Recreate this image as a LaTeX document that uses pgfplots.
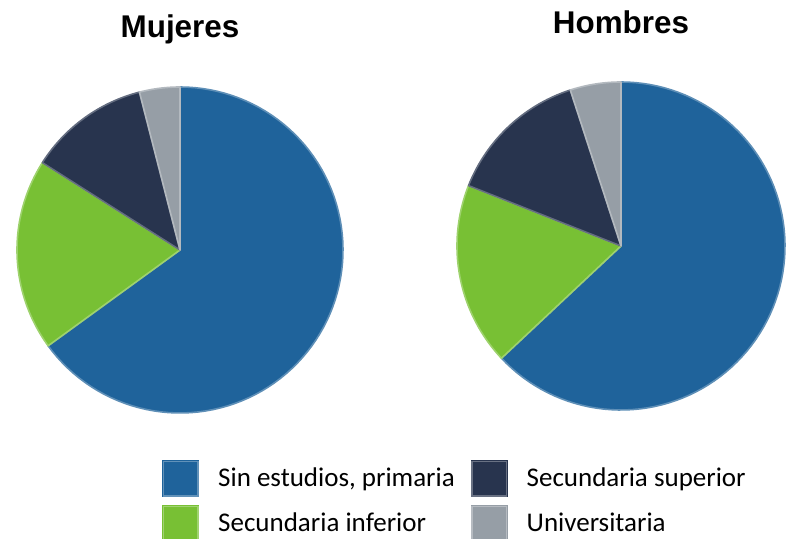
\documentclass[border=0pt]{standalone}
\usepackage{pgfplots}
\pgfplotsset{compat=1.18}
\usepackage{pgfplotstable}
\usepgfplotslibrary{polar}
\usepackage{fontspec}
\setmainfont{Carlito}
\newfontfamily\titlefont{Liberation Sans}
\definecolor{cBlue}{HTML}{1F639B}
\definecolor{cGreen}{HTML}{78C034}
\definecolor{cNavy}{HTML}{28344E}
\definecolor{cGray}{HTML}{969EA6}
\pgfplotstableread{
cat mujeres hombres
1 65 63
2 19 18
3 12 14
4 4 5
}\datatable
\newcommand\computeangles[2]{%
  \pgfplotstablegetelem{0}{#1}\of\datatable \pgfmathsetmacro\tA{90-3.6*\pgfplotsretval}%
  \pgfplotstablegetelem{1}{#1}\of\datatable \pgfmathsetmacro\tB{\tA-3.6*\pgfplotsretval}%
  \pgfplotstablegetelem{2}{#1}\of\datatable \pgfmathsetmacro\tC{\tB-3.6*\pgfplotsretval}%
  \pgfplotstablegetelem{3}{#1}\of\datatable \pgfmathsetmacro\tD{\tC-3.6*\pgfplotsretval}%
  \expandafter\xdef\csname #2A\endcsname{\tA}%
  \expandafter\xdef\csname #2B\endcsname{\tB}%
  \expandafter\xdef\csname #2C\endcsname{\tC}%
  \expandafter\xdef\csname #2D\endcsname{\tD}%
}
\computeangles{mujeres}{mu}
\computeangles{hombres}{ho}
\pgfplotsset{
  pie/.style={hide axis, scale only axis, clip=false, ymin=0, ymax=1,
    title style={font=\titlefont\bfseries\fontsize{15.7}{18}\selectfont, anchor=center, at={(0.5,1)}}},
  slice/.style={fill=#1, draw=#1!72!white, line width=0.8pt, line join=round, samples=90},
  legbox/.style={legend image code/.code={%
    \fill[#1] (0pt,-5pt) rectangle (18pt,13pt);
    \draw[#1!70!white, line width=0.7pt] (0.35pt,-4.65pt) rectangle (17.65pt,12.65pt);}},
}
\begin{document}
\begin{tikzpicture}
\useasboundingbox (0pt,0pt) rectangle (394.5pt,269.5pt);
\begin{polaraxis}[pie, width=163pt, height=163pt, at={(90pt,144.5pt)}, anchor=center,
  title={Mujeres}, title style={yshift=14.5pt}]
\addplot[slice=cBlue, domain=\muA:90] {1} -- (axis cs:0,0) -- cycle;
\addplot[slice=cGreen, domain=\muB:\muA] {1} -- (axis cs:0,0) -- cycle;
\addplot[slice=cNavy, domain=\muC:\muB] {1} -- (axis cs:0,0) -- cycle;
\addplot[slice=cGray, domain=\muD:\muC] {1} -- (axis cs:0,0) -- cycle;
\end{polaraxis}
\begin{polaraxis}[pie, width=164pt, height=164pt, at={(310.5pt,146.5pt)}, anchor=center,
  title={Hombres}, title style={yshift=15.7pt}]
\addplot[slice=cBlue, domain=\hoA:90] {1} -- (axis cs:0,0) -- cycle;
\addplot[slice=cGreen, domain=\hoB:\hoA] {1} -- (axis cs:0,0) -- cycle;
\addplot[slice=cNavy, domain=\hoC:\hoB] {1} -- (axis cs:0,0) -- cycle;
\addplot[slice=cGray, domain=\hoD:\hoC] {1} -- (axis cs:0,0) -- cycle;
\end{polaraxis}
\begin{axis}[hide axis, scale only axis, width=1pt, height=1pt, xmin=0, xmax=1, ymin=0, ymax=1,
  at={(81pt,39.5pt)}, anchor=south west,
  legend columns=2, legend cell align=left,
  legend style={at={(0,0)}, anchor=north west, draw=none, fill=none, inner sep=0pt,
    font=\fontsize{13.5}{16}\selectfont,
    nodes={inner sep=0pt},
    row sep=4pt,
    /tikz/column 1/.style={column sep=9.5pt},
    /tikz/column 2/.style={column sep=8pt, nodes={yshift=4pt}},
    /tikz/column 3/.style={column sep=9.5pt},
    /tikz/column 4/.style={nodes={yshift=4pt}}}]
\addlegendimage{legbox=cBlue}
\addlegendentry{Sin estudios, primaria}
\addlegendimage{legbox=cNavy}
\addlegendentry{Secundaria superior}
\addlegendimage{legbox=cGreen}
\addlegendentry{Secundaria inferior}
\addlegendimage{legbox=cGray}
\addlegendentry{Universitaria}
\end{axis}
\end{tikzpicture}
\end{document}
